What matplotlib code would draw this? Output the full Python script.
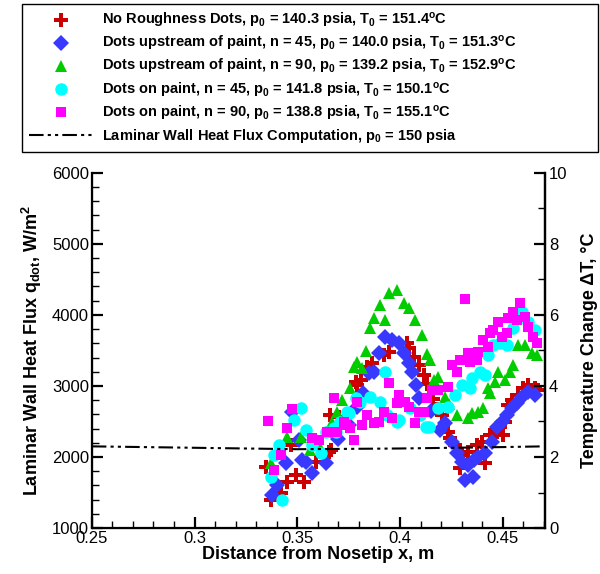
import numpy as np
import matplotlib
matplotlib.use("Agg")
import matplotlib.pyplot as plt
from matplotlib.ticker import MultipleLocator

plt.rcParams['font.family'] = ['Liberation Sans', 'DejaVu Sans']
plt.rcParams['mathtext.fontset'] = 'custom'
plt.rcParams['mathtext.rm'] = 'Liberation Sans:bold'
plt.rcParams['mathtext.it'] = 'Liberation Sans:bold'
plt.rcParams['mathtext.default'] = 'rm'

# no roughness dots
x_none = [0.3350, 0.3374, 0.3422, 0.3451, 0.3471, 0.3495, 0.3534, 0.3592, 0.3655, 0.3660,
          0.3665, 0.3704, 0.3786, 0.3791, 0.3810, 0.3840, 0.3864, 0.3922, 0.3947, 0.4034,
          0.4044, 0.4068, 0.4092, 0.4117, 0.4131, 0.4160, 0.4180, 0.4204, 0.4233, 0.4243,
          0.4267, 0.4291, 0.4301, 0.4330, 0.4374, 0.4398, 0.4413, 0.4437, 0.4471, 0.4500,
          0.4510, 0.4524, 0.4544, 0.4573, 0.4597, 0.4621, 0.4655, 0.4670]
y_none = [1860, 1390, 1490, 1650, 2170, 1750, 1650, 1930, 2070, 2590,
          2100, 2560, 3050, 3010, 3080, 3270, 3320, 3440, 3480, 3610,
          3540, 3410, 3300, 3150, 3030, 2820, 2680, 2590, 2350, 2270,
          2170, 1850, 2030, 2070, 2170, 2210, 1920, 2310, 2350, 2310,
          2490, 2730, 2800, 2870, 2970, 3010, 2970, 2940]

# dots upstream of paint, n = 45
x_up45 = [0.3379, 0.3403, 0.3447, 0.3476, 0.3510, 0.3524, 0.3544, 0.3573, 0.3641, 0.3700,
          0.3750, 0.3790, 0.3820, 0.3850, 0.3874, 0.3898, 0.3927, 0.3961, 0.3995, 0.4019,
          0.4044, 0.4058, 0.4078, 0.4092, 0.4150, 0.4194, 0.4218, 0.4252, 0.4277, 0.4301,
          0.4316, 0.4330, 0.4354, 0.4360, 0.4379, 0.4413, 0.4447, 0.4471, 0.4495, 0.4520,
          0.4544, 0.4568, 0.4592, 0.4621, 0.4655]
y_up45 = [1460, 1610, 1920, 2630, 2240, 1960, 1930, 1770, 1920, 2250,
          2450, 2700, 2900, 3180, 3200, 3460, 3690, 3650, 3610, 3460,
          3320, 3200, 3010, 2830, 2650, 2380, 2480, 2210, 2060, 1930,
          1680, 1890, 1720, 1960, 2000, 2060, 2210, 2420, 2490, 2590,
          2690, 2760, 2850, 2920, 2870]

# dots upstream of paint, n = 90
x_up90 = [0.3374, 0.3451, 0.3520, 0.3560, 0.3600, 0.3640, 0.3670, 0.3694, 0.3718, 0.3757,
          0.3777, 0.3791, 0.3816, 0.3835, 0.3854, 0.3874, 0.3903, 0.3927, 0.3947, 0.3986,
          0.4019, 0.4044, 0.4073, 0.4107, 0.4131, 0.4146, 0.4165, 0.4184, 0.4220, 0.4240,
          0.4277, 0.4330, 0.4350, 0.4379, 0.4403, 0.4427, 0.4437, 0.4461, 0.4476, 0.4510,
          0.4534, 0.4549, 0.4573, 0.4607, 0.4641, 0.4665]
y_up90 = [1920, 2280, 2280, 2100, 2200, 2350, 2490, 2630, 2800, 2970,
          3270, 3340, 3250, 3490, 3820, 3960, 4140, 3930, 4310, 4350,
          4170, 4100, 3930, 3720, 3450, 3370, 3080, 3130, 2850, 2750,
          2590, 2550, 2620, 2630, 2690, 2970, 2900, 3060, 3200, 3080,
          3200, 3300, 3580, 3580, 3470, 3440]

# dots on paint, n = 45
x_on45 = [0.3374, 0.3388, 0.3413, 0.3427, 0.3485, 0.3520, 0.3544, 0.3573, 0.3617, 0.3641,
          0.3680, 0.3690, 0.3709, 0.3743, 0.3752, 0.3786, 0.3806, 0.3854, 0.3903, 0.3927,
          0.3937, 0.3985, 0.3995, 0.4049, 0.4097, 0.4126, 0.4141, 0.4184, 0.4233, 0.4267,
          0.4301, 0.4340, 0.4350, 0.4388, 0.4413, 0.4427, 0.4452, 0.4486, 0.4520, 0.4549,
          0.4592, 0.4621, 0.4655]
y_on45 = [1720, 2030, 2170, 1390, 2520, 2690, 2380, 2170, 2060, 2350,
          2410, 2350, 2490, 2630, 2620, 2830, 2770, 2850, 2770, 3200,
          2590, 2490, 2520, 2690, 2590, 2420, 2420, 2690, 2700, 2870,
          3010, 2970, 3110, 3200, 3150, 3440, 3580, 3610, 3580, 3820,
          4040, 3900, 3790]

# dots on paint, n = 90
x_on90 = [0.3359, 0.3388, 0.3422, 0.3451, 0.3476, 0.3573, 0.3607, 0.3646, 0.3680, 0.3694,
          0.3728, 0.3738, 0.3757, 0.3777, 0.3791, 0.3816, 0.3840, 0.3874, 0.3898, 0.3922,
          0.3947, 0.3961, 0.3985, 0.3995, 0.4024, 0.4044, 0.4073, 0.4092, 0.4117, 0.4131,
          0.4155, 0.4184, 0.4233, 0.4252, 0.4277, 0.4291, 0.4316, 0.4330, 0.4340, 0.4374,
          0.4379, 0.4403, 0.4427, 0.4437, 0.4452, 0.4476, 0.4495, 0.4520, 0.4524, 0.4549,
          0.4568, 0.4583, 0.4607, 0.4621, 0.4646, 0.4665]
y_on90 = [2510, 1820, 2030, 2410, 2680, 2270, 2240, 2350, 2830, 2350,
          2490, 2450, 2410, 2240, 2770, 2450, 2590, 2480, 2490, 2630,
          3040, 2550, 2760, 2870, 2770, 2700, 2480, 2630, 2630, 2830,
          2940, 2940, 2990, 3300, 3200, 3370, 4230, 3460, 3340, 3370,
          3480, 3650, 3550, 3750, 3790, 3900, 3690, 3750, 3960, 4040,
          3930, 4170, 3970, 3830, 3690, 3610]

# laminar computation
x_comp = [0.25, 0.30, 0.35, 0.40, 0.45, 0.47]
y_comp = [2150, 2130, 2110, 2120, 2140, 2150]

labels = [
    r'No Roughness Dots, p$_0$ = 140.3 psia, T$_0$ = 151.4$^o$C',
    r'Dots upstream of paint, n = 45, p$_0$ = 140.0 psia, T$_0$ = 151.3$^o$C',
    r'Dots upstream of paint, n = 90, p$_0$ = 139.2 psia, T$_0$ = 152.9$^o$C',
    r'Dots on paint, n = 45, p$_0$ = 141.8 psia, T$_0$ = 150.1$^o$C',
    r'Dots on paint, n = 90, p$_0$ = 138.8 psia, T$_0$ = 155.1$^o$C',
    r'Laminar Wall Heat Flux Computation, p$_0$ = 150 psia',
]

fig = plt.figure(figsize=(6.0, 5.74), dpi=100)
ax = fig.add_axes([0.153, 0.080, 0.755, 0.619])

h1, = ax.plot(x_none, y_none, 'P', color='#cc0000', ms=10, mew=0, label=labels[0])
h2, = ax.plot(x_up45, y_up45, 'D', color='#3838ff', ms=8, mew=0, label=labels[1])
h3, = ax.plot(x_up90, y_up90, '^', color='#00cc00', ms=8.5, mew=0, label=labels[2])
h4, = ax.plot(x_on45, y_on45, 'o', color='#00ffff', ms=9, mew=0, label=labels[3])
h5, = ax.plot(x_on90, y_on90, 's', color='#ff00ff', ms=7.5, mew=0, label=labels[4])
h6, = ax.plot(x_comp, y_comp, color='black', lw=1.5,
              linestyle=(0, (7, 2, 1.5, 2, 1.5, 2)), label=labels[5])

ax.set_xlim(0.25, 0.4705)
ax.set_ylim(1000, 6000)
ax.xaxis.set_major_locator(MultipleLocator(0.05))
ax.xaxis.set_minor_locator(MultipleLocator(0.01))
ax.yaxis.set_major_locator(MultipleLocator(1000))
ax.yaxis.set_minor_locator(MultipleLocator(200))
ax.set_xticks([0.25, 0.3, 0.35, 0.4, 0.45])
ax.set_xticklabels(['0.25', '0.3', '0.35', '0.4', '0.45'])
ax.spines['top'].set_visible(False)
for s in ['left', 'bottom', 'right']:
    ax.spines[s].set_linewidth(1.6)
ax.tick_params(which='major', direction='in', length=8, width=1.6, labelsize=12, pad=2)
ax.tick_params(which='minor', direction='in', length=5, width=1)
ax.set_xlabel('Distance from Nosetip x, m', fontsize=13, fontweight='bold', labelpad=0)
ax.set_ylabel(r'Laminar Wall Heat Flux q$_{dot}$, W/m$^2$', fontsize=13,
              fontweight='bold', labelpad=6)

ax2 = ax.twinx()
ax2.set_ylim(0, 10)
ax2.yaxis.set_major_locator(MultipleLocator(2))
ax2.yaxis.set_minor_locator(MultipleLocator(1))
ax2.spines['top'].set_visible(False)
ax2.spines['right'].set_linewidth(1.6)
ax2.tick_params(which='major', direction='in', length=8, width=1.6, labelsize=12, pad=3)
ax2.tick_params(which='minor', direction='in', length=5, width=1)
ax2.set_ylabel('Temperature Change ΔT, °C', fontsize=13, fontweight='bold', labelpad=10)

leg = fig.legend(handles=[h1, h2, h3, h4, h5, h6], loc='upper left',
                 bbox_to_anchor=(22 / 600, 1 - 137 / 574, 576 / 600, 133 / 574),
                 mode='expand', prop={'weight': 'bold', 'size': 10.5},
                 frameon=True, fancybox=False, edgecolor='black', framealpha=1,
                 handlelength=4.4, handletextpad=0.6, labelspacing=0.28,
                 borderpad=0.5, borderaxespad=0)
leg.get_frame().set_linewidth(1.0)

fig.savefig('out.png', dpi=100)
